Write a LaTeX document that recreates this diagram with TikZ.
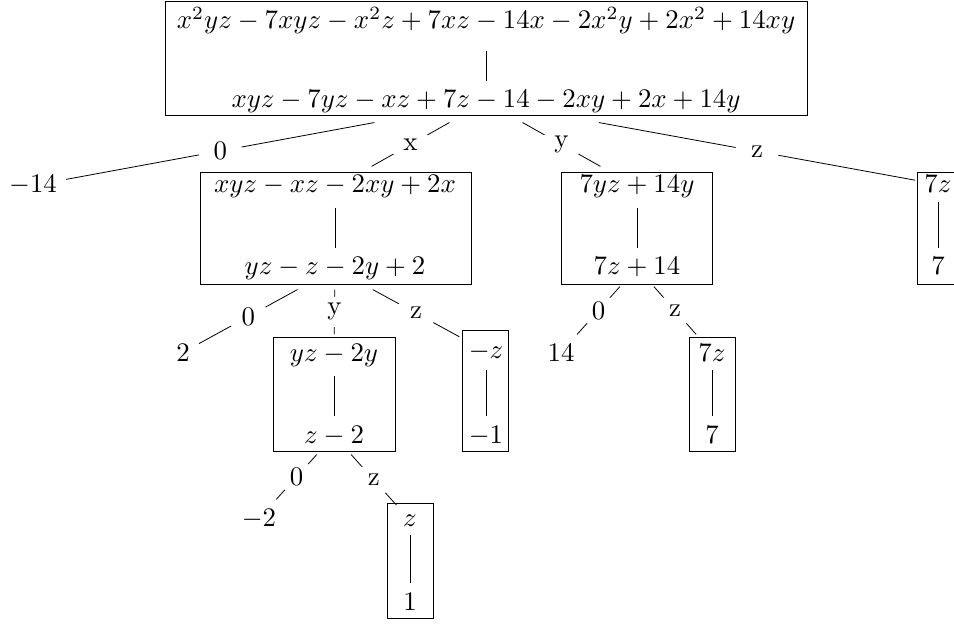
\documentclass[tikz,border=0pt]{standalone}
\usetikzlibrary{fit,shapes.geometric}
\begin{document}
\begin{tikzpicture}[x=0.373pt,y=-0.373pt, line width=0.3pt,
  tx/.style={anchor=base, inner sep=3.33pt},
  bx/.style={draw, inner sep=0pt},
  lab/.style={ellipse, fill=white, inner sep=0pt, minimum width=16.4pt, minimum height=11.2pt}]
\useasboundingbox (0,0) rectangle (954,623);

% root
\node[tx] (rt) at (486,29) {$x^2yz-7xyz-x^2z+7xz-14x-2x^2y+2x^2+14xy$};
\node[tx] (rb) at (486,108) {$xyz-7yz-xz+7z-14-2xy+2x+14y$};
\node[bx, fit={(165,1) (807,115)}] (rbox) {};
\draw[shorten <=2.9pt] (rt) -- (rb);

% level 1
\node[tx] (m14) at (33,193) {$-14$};
\node[tx] (xt) at (335,193) {$xyz-xz-2xy+2x$};
\node[tx] (xb) at (335,275) {$yz-z-2y+2$};
\node[bx, fit={(200,172) (471,284)}] (xbox) {};
\draw (xt) -- (xb);
\node[tx] (yt) at (637,193) {$7yz+14y$};
\node[tx] (yb) at (637,275) {$7z+14$};
\node[bx, fit={(561,172) (712,284)}] (ybox) {};
\draw (yt) -- (yb);
\node[tx] (zt) at (938,193) {$7z$};
\node[tx] (zb) at (938,275) {$7$};
\node[bx, fit={(917,172) (961,284)}] (zbox) {};
\draw (zt) -- (zb);

% level 2
\node[tx] (l2) at (183,361) {$2$};
\node[tx] (xyt) at (334,361) {$yz-2y$};
\node[tx] (xyb) at (334,443) {$z-2$};
\node[bx, fit={(273,337) (395,451)}] (xybox) {};
\draw (xyt) -- (xyb);
\node[tx] (xzt) at (486,358) {$-z$};
\node[tx] (xzb) at (486,443) {$-1$};
\node[bx, fit={(462,330) (508,451)}] (xzbox) {};
\draw (xzt) -- (xzb);
\node[tx] (l14) at (561,361) {$14$};
\node[tx] (yzt) at (712,361) {$7z$};
\node[tx] (yzb) at (712,443) {$7$};
\node[bx, fit={(689,337) (735,451)}] (yzbox) {};
\draw (yzt) -- (yzb);

% level 3
\node[tx] (lm2) at (259,526) {$-2$};
\node[tx] (xyzt) at (410,526) {$z$};
\node[tx] (xyzb) at (410,610) {$1$};
\node[bx, fit={(387,503) (433,618)}] (xyzbox) {};
\draw (xyzt) -- (xyzb);

% edges
\draw (rb) -- node[lab]{0} (m14);
\draw (rb) -- node[lab]{x} (xt);
\draw (rb) -- node[lab]{y} (yt);
\draw (rb) -- node[lab]{z} (zt);
\draw (xb) -- node[lab]{0} (l2);
\draw (xb) -- node[lab]{y} (xyt);
\draw (xb) -- node[lab]{z} (xzt);
\draw (yb) -- node[lab]{0} (l14);
\draw (yb) -- node[lab]{z} (yzt);
\draw (xyb) -- node[lab]{0} (lm2);
\draw (xyb) -- node[lab]{z} (xyzt);
\end{tikzpicture}
\end{document}
